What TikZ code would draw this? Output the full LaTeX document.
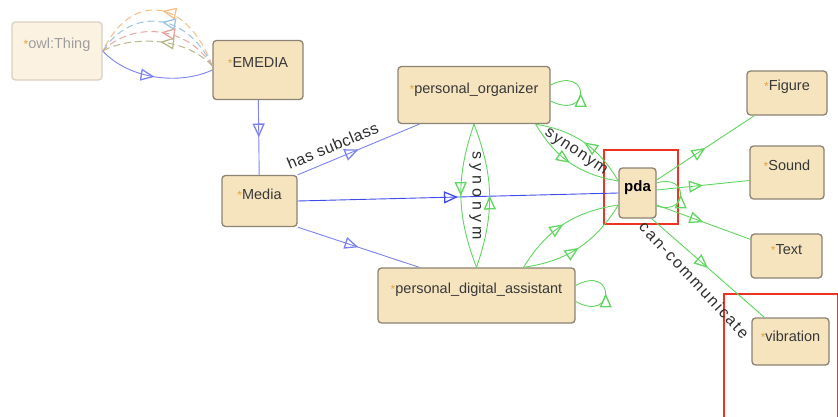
\documentclass[tikz,border=0pt]{standalone}
\usepackage{fontspec}
\setmainfont{Liberation Sans}
\usetikzlibrary{arrows.meta,decorations.markings}
\definecolor{clsfill}{HTML}{F6E4BF}
\definecolor{clsline}{HTML}{8C8373}
\definecolor{fadefill}{HTML}{FBF2E2}
\definecolor{fadeline}{HTML}{D8D0C2}
\definecolor{isablue}{HTML}{7C82F2}
\definecolor{isadark}{HTML}{3F4CEB}
\definecolor{syngreen}{HTML}{5FD65F}
\definecolor{startag}{HTML}{E3A43C}
\definecolor{hilite}{HTML}{EE3322}
\definecolor{dashorange}{HTML}{F7BE86}
\definecolor{dashblue}{HTML}{9FC3E2}
\definecolor{dashred}{HTML}{E6A6A2}
\definecolor{dasholive}{HTML}{B8B88C}
\newcommand{\tagstar}{{\color{startag}\fontsize{12}{12}\selectfont*}}
\newcommand{\spread}[1]{\addfontfeature{LetterSpace=#1}}
\tikzset{
  cls/.style={draw=clsline, fill=clsfill, rounded corners=3.5pt, line width=1.3pt,
    inner sep=0pt, text=black!78, font=\fontsize{14.5}{16}\selectfont,
    text height=10pt, text depth=14pt},
  fade/.style={draw=fadeline, fill=fadefill, text=black!38},
  tri/.style={postaction={decorate}, decoration={markings, mark=at position 0.5 with
    {\arrow[line width=1.3pt]{Triangle[open, length=14pt, width=12pt]}}}},
  isa/.style={draw=isablue, line width=0.9pt, tri},
  syn/.style={draw=syngreen, line width=0.9pt, tri},
  ghost/.style={line width=1pt, dash pattern=on 7pt off 4pt, tri},
  lbl/.style={text=black!82, font=\fontsize{16}{18}\selectfont, inner sep=1pt},
  hilite/.style={draw=hilite, line width=2pt},
}
\begin{document}
\begin{tikzpicture}[x=1pt, y=1pt]
\useasboundingbox (0,0) rectangle (838,416);

\node[cls, fade, minimum width=90pt, minimum height=58pt] (owl) at (57,365) {\tagstar owl:Thing};
\node[cls, minimum width=90pt, minimum height=59pt] (emedia) at (258,346) {\tagstar EMEDIA};
\node[cls, minimum width=75pt, minimum height=51pt] (media) at (259.5,215) {\tagstar Media};
\node[cls, minimum width=152pt, minimum height=57pt] (org) at (474,321) {\tagstar personal\_organizer};
\node[cls, minimum width=197pt, minimum height=55pt] (pa) at (476.5,120.5) {\tagstar personal\_digital\_assistant};
\node[cls, minimum width=37pt, minimum height=50pt, text=black, font=\fontsize{15}{16}\selectfont\bfseries] (pda) at (637.5,223) {pda};
\node[cls, minimum width=80pt, minimum height=44pt] (figure) at (787,323) {\tagstar Figure};
\node[cls, minimum width=74pt, minimum height=53pt] (sound) at (787,243.5) {\tagstar Sound};
\node[cls, minimum width=71pt, minimum height=44pt] (text) at (786.5,160) {\tagstar Text};
\node[cls, minimum width=77pt, minimum height=47pt, text depth=10pt] (vib) at (790.5,74.5) {\tagstar vibration};

\draw[hilite] ([shift={(-14pt,17pt)}]pda.north west) rectangle ([shift={(21pt,-5pt)}]pda.south east);
\draw[hilite] ([shift={(-27pt,23pt)}]vib.north west) rectangle ([shift={(8pt,-60pt)}]vib.south east);

% subclass edges
\path[isa] (owl.east) .. controls (130,336) and (180,331) .. (emedia.west);
\path[ghost, draw=dashorange] ([yshift=4pt]emedia.west) .. controls (185,422) and (130,422) .. (owl.east);
\path[ghost, draw=dashblue] ([yshift=4pt]emedia.west) .. controls (185,407) and (130,407) .. (owl.east);
\path[ghost, draw=dashred] ([yshift=4pt]emedia.west) .. controls (185,393) and (130,393) .. (owl.east);
\path[ghost, draw=dasholive] ([yshift=4pt]emedia.west) .. controls (185,380) and (130,380) .. (owl.east);
\path[isa] (emedia) -- (media);
\path[isa] (media.north east) -- node[lbl, sloped, above=6pt, pos=0.33, font=\fontsize{16}{18}\selectfont\spread{3}] {has subclass} ([xshift=22pt]org.south west);
\path[isa, draw=isadark] (media.east) -- (pda.west);
\path[isa] (media.south east) -- ([xshift=42pt]pa.north west);

% synonym edges
\path[syn] (org.south) to[bend right=20] (pa.north);
\path[syn] (pa.north) to[bend right=20] (org.south);
\path (org.south) -- node[lbl, rotate=-90, font=\fontsize{16}{18}\selectfont\spread{25}] {synonym} (pa.north);
\path[syn] ([xshift=-15pt]org.south east) to[bend right=25] ([yshift=12pt]pda.west);
\path[syn] ([yshift=12pt]pda.west) to[bend right=25] ([xshift=-15pt]org.south east);
\path ([xshift=-18pt]org.south east) -- node[lbl, sloped, font=\fontsize{16}{18}\selectfont\spread{8}] {synonym} ([yshift=12pt]pda.west);
\path[syn] ([xshift=47pt]pa.north) to[bend left=25] ([yshift=-12pt]pda.west);
\path[syn] ([xshift=47pt]pa.north) to[bend right=25] ([yshift=-12pt]pda.west);

% self loops
\path[syn] ([yshift=-6pt]org.east) .. controls +(40,-20) and +(40,20) .. ([yshift=10pt]org.east);
\path[syn] ([yshift=-6pt]pa.east) .. controls +(40,-22) and +(40,22) .. ([yshift=10pt]pa.east);
\path[syn] ([yshift=-13pt]pda.east) .. controls +(32,-10) and +(32,10) .. ([yshift=10pt]pda.east);

% can-communicate edges
\path[syn] ([yshift=13pt]pda.east) -- ([xshift=8pt]figure.south west);
\path[syn] ([yshift=3pt]pda.east) -- ([yshift=-8pt]sound.west);
\path[syn] ([yshift=-12pt]pda.east) -- ([yshift=-6pt]text.north west);
\path[syn] ([xshift=-5pt]pda.south east) -- ([xshift=13pt]vib.north west);
\path (pda.south) -- node[lbl, sloped, font=\fontsize{16}{18}\selectfont\spread{12}] {can-communicate} (vib.west);
\end{tikzpicture}
\end{document}
